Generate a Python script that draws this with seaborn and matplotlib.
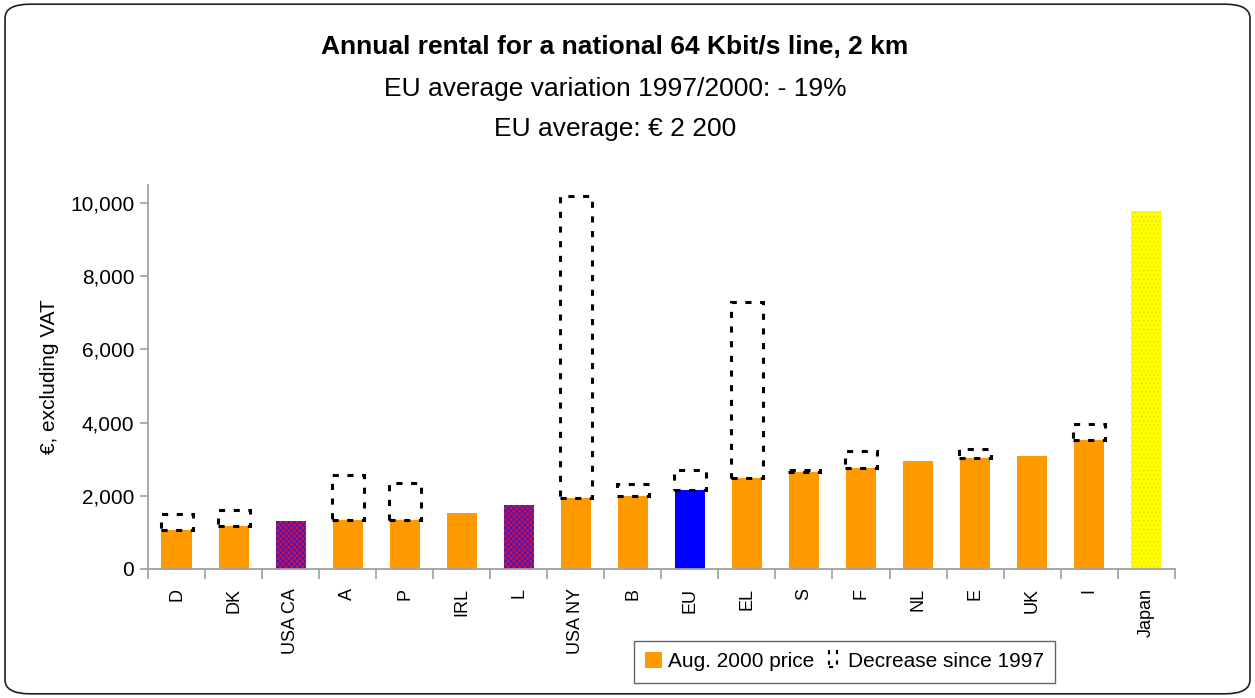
import numpy as np
import matplotlib
matplotlib.use("Agg")
import matplotlib.pyplot as plt
import seaborn as sns
from matplotlib.patches import FancyBboxPatch, Rectangle
from matplotlib.ticker import FuncFormatter, FixedLocator
from matplotlib.legend_handler import HandlerBase

categories = ["D", "DK", "USA CA", "A", "P", "IRL", "L", "USA NY", "B", "EU",
              "EL", "S", "F", "NL", "E", "UK", "I", "Japan"]
price_2000 = [1060, 1180, 1310, 1340, 1335, 1530, 1750, 1940, 1990, 2160,
              2490, 2650, 2760, 2950, 3030, 3090, 3525, 9780]
price_1997 = [1490, 1610, None, 2560, 2350, None, None, 10190, 2320, 2700,
              7300, 2700, 3220, None, 3280, None, 3950, None]
bar_colors = ["#FF9900", "#FF9900", "#B0126A", "#FF9900", "#FF9900", "#FF9900", "#B0126A",
              "#FF9900", "#FF9900", "#0000FF", "#FF9900", "#FF9900", "#FF9900", "#FF9900",
              "#FF9900", "#FF9900", "#FF9900", "#FFFF00"]
yticks = [0, 2000, 4000, 6000, 8000, 10000]

sns.set_theme(style="white")
font = ["Liberation Sans Narrow", "Liberation Sans", "DejaVu Sans"]
plt.rcParams["font.family"] = font
plt.rcParams["hatch.linewidth"] = 0.7
plt.rcParams["text.color"] = "black"
plt.rcParams["axes.labelcolor"] = "black"
plt.rcParams["xtick.color"] = "black"
plt.rcParams["ytick.color"] = "black"

fig = plt.figure(figsize=(12.55, 6.98), dpi=100)
ax = fig.add_axes([0.118, 0.185, 0.818, 0.550])

sns.barplot(x=categories, y=price_2000, hue=categories, palette=bar_colors,
            legend=False, width=0.53, saturation=1, ax=ax, linewidth=0)

# hatched patterns for USA CA / L bars, dotted for Japan
for i, p in enumerate(ax.patches):
    if categories[i] in ("USA CA", "L"):
        p.set_facecolor("#D0104C")
        p.set_hatch("xxxxxx")
        p.set_edgecolor("#3A18C0")
        p.set_linewidth(0)
    if categories[i] == "Japan":
        p.set_hatch("....")
        p.set_edgecolor("#F0E000")
        p.set_linewidth(0)

# dashed "decrease since 1997" boxes
idx = [i for i, v in enumerate(price_1997) if v is not None]
ax.bar(idx,
       [price_1997[i] - price_2000[i] for i in idx],
       bottom=[price_2000[i] for i in idx],
       width=0.56, facecolor="none", edgecolor="black",
       linestyle=(0, (2.0, 2.8)), linewidth=2.2, zorder=3)

ax.set_ylim(0, 10500)
ax.set_xlim(-0.5, len(categories) - 0.5)
ax.yaxis.set_major_locator(FixedLocator(yticks))
ax.yaxis.set_major_formatter(FuncFormatter(lambda v, p: f"{int(v):,}"))
ax.set_ylabel("€, excluding VAT", fontsize=15, labelpad=8, color="black")

for s in ["top", "right"]:
    ax.spines[s].set_visible(False)
for s in ["left", "bottom"]:
    ax.spines[s].set_color("#A0A0A0")
    ax.spines[s].set_linewidth(1.3)

ax.tick_params(axis="y", which="major", direction="out", length=6, color="#A0A0A0",
               labelcolor="black", width=1.2, labelsize=15, left=True, pad=4)
ax.set_xticks(range(len(categories)))
ax.set_xticklabels(categories, rotation=90, fontsize=13, color="black")
ax.set_xticks(np.arange(-0.5, len(categories)), minor=True)
ax.tick_params(axis="x", which="major", length=0, pad=14, labelcolor="black")
ax.tick_params(axis="x", which="minor", direction="out", length=7, color="#A0A0A0",
               width=1.2, bottom=True)

# titles
fig.text(0.49, 0.932, "Annual rental for a national 64 Kbit/s line, 2 km",
         ha="center", va="center", fontsize=19, fontweight="bold", color="black")
fig.text(0.49, 0.872, "EU average variation 1997/2000: - 19%",
         ha="center", va="center", fontsize=19, color="black")
fig.text(0.49, 0.815, "EU average: € 2 200",
         ha="center", va="center", fontsize=19, color="black")


class DashedBoxHandler(HandlerBase):
    def create_artists(self, legend, orig_handle, xdescent, ydescent, width, height,
                       fontsize, trans):
        r = Rectangle((xdescent + width * 0.25, ydescent), width * 0.5, height,
                      facecolor="none", edgecolor="black", linestyle=(0, (2, 3)),
                      linewidth=1.5, transform=trans)
        return [r]


h1 = Rectangle((0, 0), 1, 1, facecolor="#FF9900", edgecolor="none")
h2 = Rectangle((0, 0), 1, 1, facecolor="none", edgecolor="black")
leg = fig.legend([h1, h2], ["Aug. 2000 price", "Decrease since 1997"],
                 handler_map={h2: DashedBoxHandler()},
                 loc="center", bbox_to_anchor=(0.673, 0.052), ncol=2,
                 fontsize=15, frameon=True, fancybox=False, handlelength=0.8,
                 handleheight=0.8, handletextpad=0.3, columnspacing=0.5,
                 borderpad=0.55, edgecolor="#404040", labelcolor="black")
leg.get_frame().set_linewidth(1.0)

# rounded outer border
border = FancyBboxPatch((0.004, 0.006), 0.992, 0.988,
                        boxstyle="round,pad=0,rounding_size=0.02",
                        transform=fig.transFigure, facecolor="none",
                        edgecolor="#202020", linewidth=1.2)
fig.patches.append(border)

fig.savefig("out.png", dpi=100)
